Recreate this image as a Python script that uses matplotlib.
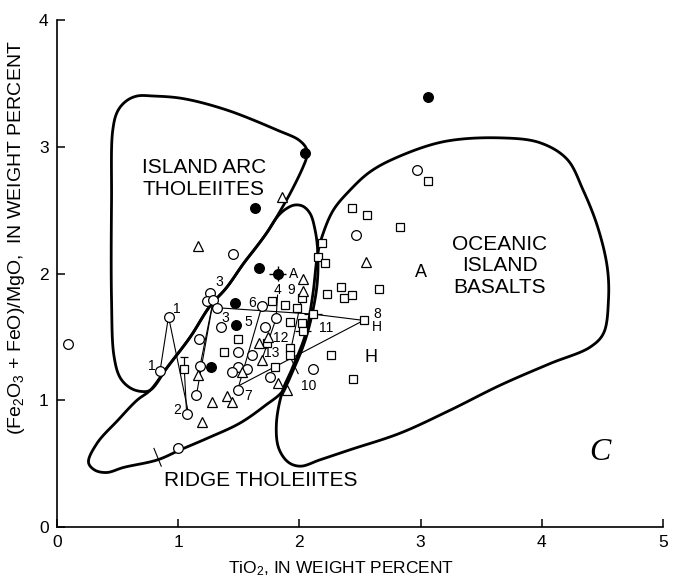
import numpy as np
import matplotlib
matplotlib.use("Agg")
import matplotlib.pyplot as plt
from matplotlib.patches import Polygon

plt.rcParams['font.family'] = ['Liberation Sans', 'DejaVu Sans']
plt.rcParams['mathtext.fontset'] = 'custom'
plt.rcParams['mathtext.rm'] = 'Liberation Sans'
plt.rcParams['mathtext.it'] = 'Liberation Sans:italic'
plt.rcParams['mathtext.default'] = 'regular'

# ---- field boundaries (TiO2 wt%, FeO*/MgO) ----
arc_x = [0.57, 0.66, 0.80, 1.04, 1.40, 1.82, 2.00, 2.06, 2.06, 2.03, 1.95, 1.87,
         1.73, 1.54, 1.40, 1.26, 1.10, 0.91, 0.77, 0.69, 0.60, 0.52, 0.47, 0.45,
         0.45, 0.46, 0.50]
arc_y = [3.36, 3.40, 3.40, 3.38, 3.29, 3.13, 3.05, 2.98, 2.92, 2.84, 2.68, 2.54,
         2.32, 2.08, 1.89, 1.74, 1.50, 1.26, 1.08, 1.07, 1.10, 1.18, 1.35, 1.79,
         2.58, 3.13, 3.28]

ridge_x = [0.26, 0.33, 0.50, 0.66, 0.77, 0.91, 1.10, 1.26, 1.40, 1.54, 1.63, 1.73,
           1.82, 1.89, 1.96, 2.03, 2.09, 2.13, 2.15, 2.15, 2.12, 2.05, 1.95, 1.86,
           1.72, 1.51, 1.24, 1.02, 0.83, 0.55, 0.41, 0.31]
ridge_y = [0.51, 0.66, 0.84, 1.00, 1.08, 1.26, 1.50, 1.74, 1.89, 2.08, 2.19, 2.32,
           2.45, 2.51, 2.54, 2.53, 2.47, 2.34, 2.19, 1.96, 1.75, 1.48, 1.24, 1.07,
           0.96, 0.82, 0.70, 0.61, 0.53, 0.47, 0.43, 0.45]

ocean_x = [3.66, 3.99, 4.21, 4.34, 4.46, 4.54, 4.55, 4.51, 4.40, 4.07, 3.66, 3.24,
           2.83, 2.42, 2.17, 2.01, 1.91, 1.83, 1.81, 1.86, 1.94, 2.05, 2.11, 2.15,
           2.19, 2.28, 2.42, 2.58, 2.79, 3.19]
ocean_y = [3.07, 3.03, 2.90, 2.66, 2.37, 2.05, 1.79, 1.53, 1.42, 1.29, 1.12, 0.92,
           0.74, 0.61, 0.53, 0.48, 0.51, 0.62, 0.81, 1.07, 1.25, 1.52, 1.83, 2.15,
           2.30, 2.50, 2.66, 2.80, 2.91, 3.04]

# ---- samples ----
circ_x = [0.09, 2.97, 1.45, 2.47, 1.26, 1.24, 1.29, 1.32, 1.35, 0.92, 1.17, 0.85,
          1.18, 1.49, 1.61, 1.49, 1.44, 1.57, 1.15, 1.49, 1.07, 1.00, 1.69, 1.81,
          1.72, 1.76, 2.11]
circ_y = [1.44, 2.82, 2.15, 2.30, 1.85, 1.78, 1.79, 1.73, 1.58, 1.66, 1.48, 1.23,
          1.27, 1.38, 1.36, 1.26, 1.22, 1.25, 1.04, 1.08, 0.89, 0.62, 1.74, 1.65,
          1.58, 1.18, 1.25]

sq_x = [3.06, 2.43, 2.56, 2.83, 2.19, 2.15, 2.21, 2.23, 2.34, 2.37, 2.43, 2.66,
        2.11, 2.53, 2.26, 2.44, 1.77, 1.88, 1.98, 2.02, 1.92, 2.02, 2.03, 1.92,
        1.92, 1.80, 1.49, 1.38, 1.05, 1.73]
sq_y = [2.73, 2.52, 2.46, 2.37, 2.24, 2.13, 2.08, 1.84, 1.89, 1.81, 1.83, 1.88,
        1.68, 1.63, 1.36, 1.17, 1.78, 1.75, 1.73, 1.81, 1.62, 1.61, 1.55, 1.41,
        1.36, 1.26, 1.48, 1.38, 1.25, 1.45]

tri_x = [1.86, 1.16, 2.03, 2.55, 2.03, 1.67, 1.74, 1.69, 1.53, 1.16, 1.28, 1.40,
         1.44, 1.20, 1.82, 1.90]
tri_y = [2.60, 2.22, 1.96, 2.09, 1.86, 1.45, 1.50, 1.32, 1.22, 1.20, 0.99, 1.03,
         0.99, 0.83, 1.14, 1.08]

dot_x = [3.06, 2.05, 1.63, 1.67, 1.47, 1.48, 1.27]
dot_y = [3.39, 2.95, 2.52, 2.04, 1.77, 1.59, 1.26]

# averaged sample with uncertainty bars
avg_x, avg_y, avg_xerr, avg_yerr = 1.82, 2.00, 0.07, 0.06

# squares carrying error bars
ebar_x = [2.11, 2.03]
ebar_y = [1.68, 1.55]
ebar_xerr = [0.075, 0.065]
tbar_x, tbar_y, tbar_up = 1.05, 1.25, 0.09

# ---- tie lines between related samples ----
tie_lines = [
    ([0.85, 0.92, 1.08], [1.23, 1.66, 0.92]),
    ([1.05, 1.07], [1.25, 0.89]),
    ([1.29, 1.15], [1.79, 1.04]),
    ([1.29, 1.18], [1.79, 1.27]),
    ([1.32, 2.11, 2.53, 1.51], [1.73, 1.68, 1.63, 1.12]),
    ([1.49, 1.69], [1.08, 1.74]),
    ([1.82, 1.81], [1.83, 1.68]),
    ([2.02, 1.92], [1.81, 1.36]),
    ([1.81, 1.69], [1.65, 1.32]),
    ([1.99, 1.93], [1.21, 1.33]),
    ([0.80, 0.86], [0.62, 0.48]),
]

# ---- small annotations ----
small_labels = ["1", "1", "2", "3", "3", "6", "5", "4", "9", "12", "13", "7",
                "10", "11", "8", "H", "A"]
small_x = [0.99, 0.78, 0.99, 1.34, 1.39, 1.61, 1.58, 1.82, 1.93, 1.85, 1.77, 1.58,
           2.08, 2.22, 2.64, 2.64, 1.95]
small_y = [1.72, 1.27, 0.92, 1.93, 1.65, 1.77, 1.62, 1.87, 1.87, 1.49, 1.37, 1.03,
           1.11, 1.57, 1.68, 1.58, 2.00]

big_labels = ["H", "A"]
big_x = [2.59, 3.00]
big_y = [1.34, 2.01]


def closed_spline(xs, ys, n=24, alpha=0.5):
    """Closed centripetal Catmull-Rom curve through the boundary vertices."""
    p = np.column_stack([xs, ys]).astype(float)
    m = len(p)
    pieces = []
    for i in range(m):
        P0, P1, P2, P3 = p[i - 1], p[i], p[(i + 1) % m], p[(i + 2) % m]
        t0 = 0.0
        t1 = t0 + np.linalg.norm(P1 - P0) ** alpha
        t2 = t1 + np.linalg.norm(P2 - P1) ** alpha
        t3 = t2 + np.linalg.norm(P3 - P2) ** alpha
        t = np.linspace(t1, t2, n, endpoint=False)[:, None]
        A1 = (t1 - t) / (t1 - t0) * P0 + (t - t0) / (t1 - t0) * P1
        A2 = (t2 - t) / (t2 - t1) * P1 + (t - t1) / (t2 - t1) * P2
        A3 = (t3 - t) / (t3 - t2) * P2 + (t - t2) / (t3 - t2) * P3
        B1 = (t2 - t) / (t2 - t0) * A1 + (t - t0) / (t2 - t0) * A2
        B2 = (t3 - t) / (t3 - t1) * A2 + (t - t1) / (t3 - t1) * A3
        C = (t2 - t) / (t2 - t1) * B1 + (t - t1) / (t2 - t1) * B2
        pieces.append(C)
    return np.vstack(pieces)


fig = plt.figure(figsize=(6.83, 5.81), dpi=100)
ax = fig.add_axes([57 / 683, 54 / 581, 606 / 683, 507 / 581])

for bx, by in [(arc_x, arc_y), (ridge_x, ridge_y), (ocean_x, ocean_y)]:
    outline = closed_spline(bx, by)
    ax.add_patch(Polygon(outline, closed=True, fill=False, edgecolor='black',
                         linewidth=2.0, joinstyle='round', zorder=2))

for lx, ly in tie_lines:
    ax.plot(lx, ly, color='black', lw=0.8, zorder=3)

ax.errorbar(ebar_x, ebar_y, xerr=ebar_xerr, fmt='none', ecolor='black',
            elinewidth=0.9, zorder=3)
ax.errorbar([tbar_x], [tbar_y], yerr=[[0], [tbar_up]], fmt='none', ecolor='black',
            elinewidth=0.9, capsize=3, capthick=0.9, zorder=3)
ax.errorbar([avg_x], [avg_y], xerr=avg_xerr, yerr=avg_yerr, fmt='none',
            ecolor='black', elinewidth=1.0, zorder=3)

mk = dict(linestyle='none', markeredgecolor='black', markeredgewidth=0.9, zorder=4)
ax.plot(circ_x, circ_y, marker='o', markersize=7, markerfacecolor='white', **mk)
ax.plot(sq_x, sq_y, marker='s', markersize=6.3, markerfacecolor='white', **mk)
ax.plot(tri_x, tri_y, marker='^', markersize=7.5, markerfacecolor='white', **mk)
ax.plot(dot_x, dot_y, marker='o', markersize=7, markerfacecolor='black', **mk)
ax.plot([avg_x], [avg_y], marker='o', markersize=7, markerfacecolor='black', **mk)

for s, x, y in zip(small_labels, small_x, small_y):
    ax.text(x, y, s, fontsize=10, ha='center', va='center', zorder=5)
for s, x, y in zip(big_labels, big_x, big_y):
    ax.text(x, y, s, fontsize=13, ha='center', va='center', zorder=5)

ax.text(1.21, 2.75, "ISLAND ARC\nTHOLEIITES", fontsize=15, ha='center',
        va='center', linespacing=1.15)
ax.text(3.655, 2.06, "OCEANIC\nISLAND\nBASALTS", fontsize=15, ha='center',
        va='center', linespacing=1.15)
ax.text(1.68, 0.37, "RIDGE THOLEIITES", fontsize=15, ha='center', va='center')
ax.text(4.48, 0.59, "C", fontsize=23, ha='center', va='center',
        family='Liberation Serif', style='italic')

ax.set_xlim(0, 5)
ax.set_ylim(0, 4)
ax.set_xticks(range(6))
ax.set_yticks(range(5))
for side in ['top', 'right']:
    ax.spines[side].set_visible(False)
for side in ['left', 'bottom']:
    ax.spines[side].set_linewidth(1.2)
ax.tick_params(direction='in', length=6, width=1.1, labelsize=12.5, pad=6)

fig.text(341 / 683, 1 - 569 / 581, "TiO$_2$, IN WEIGHT PERCENT", fontsize=12.5,
         ha='center', va='center')
fig.text(17 / 683, 1 - 238 / 581,
         "(Fe$_2$O$_3$ + FeO)/MgO,  IN WEIGHT PERCENT", fontsize=14,
         rotation=90, ha='center', va='center')

fig.savefig("out.png", dpi=100)
